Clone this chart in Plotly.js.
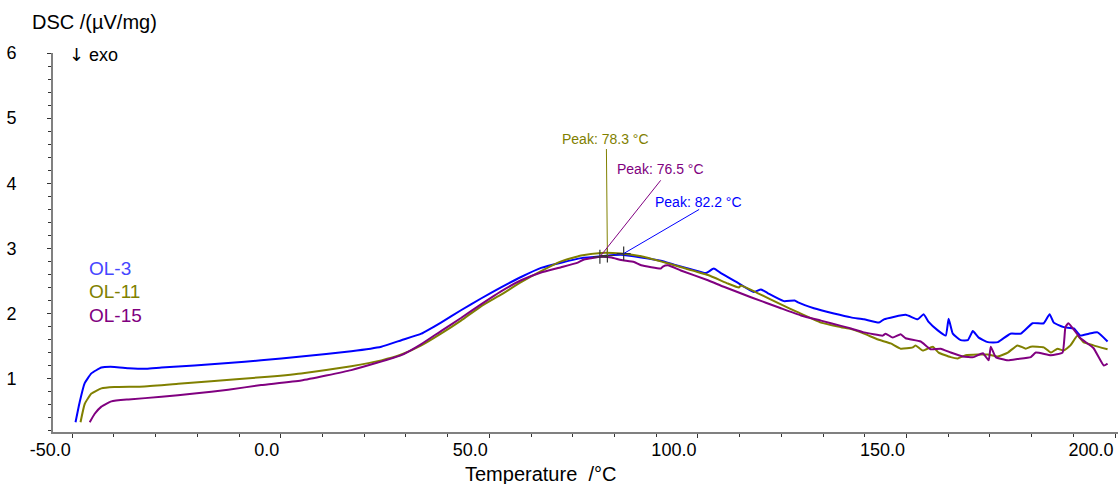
<!DOCTYPE html>
<html><head><meta charset="utf-8">
<script src="https://cdn.plot.ly/plotly-3.0.1.min.js"></script>
<style>html,body{margin:0;padding:0;background:#fff}#chart{width:1118px;height:484px}</style>
</head><body><div id="chart"></div>
<script>
// ---- data (temperature in °C, DSC in µV/mg) ----
const ol3T = [-49.2,-48.2,-47.0,-45.4,-43.0,-39.9,-36.5,-32.2,-28.6,-20.7,-12.6,-4.7,4.9,16.9,24.1,28.9,33.7,38.4,43.2,48.0,52.8,57.6,62.4,67.2,72.0,76.8,81.6,86.4,91.1,94.3,98.3,101.9,103.8,105.5,109.6,113.4,115.1,116.8,120.6,123.2,124.0,127.8,132.6,136.7,139.8,143.4,144.6,149.8,152.7,154.1,155.3,157.5,159.4,160.1,161.1,163.0,164.7,165.9,167.3,169.5,171.9,174.9,177.4,180.2,182.9,184.3,185.3,187.7,190.1,191.7,193.7,195.8,198.2];
const ol3V = [0.33,0.64,0.93,1.08,1.17,1.18,1.16,1.15,1.17,1.20,1.24,1.28,1.34,1.42,1.49,1.59,1.69,1.86,2.05,2.23,2.40,2.56,2.70,2.78,2.85,2.88,2.90,2.86,2.81,2.75,2.68,2.62,2.69,2.62,2.47,2.33,2.37,2.31,2.19,2.20,2.17,2.08,2.00,1.94,1.91,1.86,1.91,1.98,1.91,1.99,1.87,1.74,1.66,1.92,1.69,1.59,1.59,1.73,1.63,1.56,1.56,1.69,1.69,1.85,1.85,1.99,1.86,1.79,1.77,1.66,1.69,1.71,1.57];

const ol11T = [-48.0,-47.0,-45.4,-43.0,-39.9,-32.7,-24.6,-16.7,-4.7,4.9,16.9,24.1,28.9,33.7,38.4,43.2,48.0,52.8,57.6,62.4,67.2,72.0,76.8,81.6,86.4,91.1,96.0,102.4,107.2,109.8,110.3,114.4,119.9,123.9,129.5,134.3,136.7,139.8,143.2,146.2,148.6,151.5,152.2,153.9,156.3,157.7,160.6,162.3,164.2,167.1,169.5,171.9,174.3,176.6,178.6,179.8,182.9,184.6,186.2,187.7,189.3,191.0,192.4,194.8,198.2];
const ol11V = [0.33,0.61,0.77,0.85,0.87,0.88,0.92,0.96,1.02,1.08,1.19,1.28,1.37,1.51,1.69,1.89,2.11,2.29,2.48,2.65,2.80,2.89,2.93,2.92,2.88,2.80,2.71,2.59,2.46,2.40,2.43,2.31,2.14,2.02,1.86,1.79,1.76,1.69,1.60,1.54,1.46,1.48,1.51,1.43,1.49,1.40,1.33,1.31,1.36,1.37,1.37,1.34,1.40,1.51,1.46,1.49,1.48,1.40,1.46,1.43,1.51,1.66,1.56,1.51,1.45];

const ol15T = [-45.8,-44.6,-43.0,-40.6,-36.5,-28.6,-20.7,-12.6,-4.7,4.9,16.9,28.9,33.7,38.4,43.2,48.0,52.8,57.6,62.4,67.2,71.2,72.7,76.8,79.3,81.6,84.7,86.4,91.1,91.6,92.8,95.9,102.4,106.2,112.7,119.9,124.7,129.5,134.3,136.7,139.8,144.3,145.0,146.7,148.6,149.8,153.4,155.8,158.2,160.6,163.5,166.1,168.3,169.7,170.2,171.4,174.3,176.6,179.8,181.0,184.6,187.4,188.1,188.8,191.7,194.8,197.3,198.2];
const ol15V = [0.33,0.46,0.57,0.65,0.68,0.72,0.77,0.83,0.90,0.97,1.13,1.36,1.53,1.73,1.93,2.14,2.34,2.51,2.63,2.71,2.78,2.83,2.87,2.86,2.82,2.79,2.74,2.69,2.72,2.74,2.66,2.51,2.41,2.25,2.08,1.97,1.89,1.81,1.77,1.71,1.66,1.69,1.63,1.68,1.62,1.57,1.45,1.46,1.40,1.34,1.33,1.39,1.28,1.49,1.33,1.28,1.30,1.33,1.40,1.36,1.40,1.79,1.85,1.62,1.47,1.20,1.23];

const seriesNames = ['OL-3', 'OL-11', 'OL-15'];
const peakTemps = [82.2, 78.3, 76.5];
const peakVals = [2.92, 2.89, 2.87];
const xTickVals = [-50, 0, 50, 100, 150, 200];
const yTickVals = [1, 2, 3, 4, 5, 6];

// ---- styles ----
const lineColors = ['#0000ff', '#808000', '#800080'];
const legendColors = ['#4646ff', '#808000', '#800080'];
const FONT = '"Liberation Sans", Arial, Helvetica, sans-serif';
// pixel offsets of peak labels / leader lines (style only)
const labelShift = [[75, 52], [-2, 117], [61, 88]];
const leaderEnd = [[77, -45], [-1, -108], [62, -78]];

const xs = [ol3T, ol11T, ol15T];
const ys = [ol3V, ol11V, ol15V];

const traces = xs.map((x, i) => ({
  type: 'scatter', mode: 'lines', name: seriesNames[i],
  x: x, y: ys[i],
  line: {color: lineColors[i], width: 2, shape: 'spline', smoothing: 0.4},
  hoverinfo: 'skip'
}));
traces.push({
  type: 'scatter', mode: 'markers', x: peakTemps, y: peakVals,
  marker: {symbol: 'cross-thin', size: 10, color: '#333', line: {color: '#333', width: 1.2}},
  hoverinfo: 'skip', showlegend: false
});

const annotations = [];
// peak labels and leader lines
peakTemps.forEach((t, i) => {
  annotations.push({
    x: t, y: peakVals[i], xref: 'x', yref: 'y', text: '',
    showarrow: true, arrowhead: 0, arrowwidth: 1, arrowcolor: lineColors[i],
    ax: leaderEnd[i][0], ay: leaderEnd[i][1], standoff: 0, startstandoff: 0
  });
  annotations.push({
    x: t, y: peakVals[i], xref: 'x', yref: 'y',
    text: 'Peak: ' + t.toFixed(1) + ' °C', showarrow: false,
    xshift: labelShift[i][0], yshift: labelShift[i][1],
    xanchor: 'center', yanchor: 'middle',
    font: {family: FONT, size: 14, color: lineColors[i]}
  });
});
// legend (coloured text)
const legendY = [0.432, 0.371, 0.308];
seriesNames.forEach((n, i) => {
  annotations.push({
    xref: 'paper', yref: 'paper', x: 0.032, y: legendY[i],
    xanchor: 'left', yanchor: 'middle', showarrow: false, text: n,
    font: {family: FONT, size: 19, color: legendColors[i]}
  });
});
// axis titles & exo marker
annotations.push({
  xref: 'paper', yref: 'paper', x: -0.0216, y: 1.081, xanchor: 'left', yanchor: 'middle',
  showarrow: false, text: 'DSC /(µV/mg)', font: {family: FONT, size: 20, color: '#000'}
});
annotations.push({
  xref: 'paper', yref: 'paper', x: 0.0131, y: 0.997, xanchor: 'left', yanchor: 'middle',
  showarrow: false, text: '<span style="font-family:\'DejaVu Sans\'">↓</span> exo',
  font: {family: FONT, size: 18, color: '#000'}
});
annotations.push({
  xref: 'paper', yref: 'paper', x: 0.458, y: -0.112, xanchor: 'center', yanchor: 'middle',
  showarrow: false, text: 'Temperature \u00a0/°C', font: {family: FONT, size: 20, color: '#000'}
});

const layout = {
  width: 1118, height: 484,
  margin: {l: 53, r: 0, t: 53, b: 52},
  paper_bgcolor: '#fff', plot_bgcolor: '#fff',
  showlegend: false,
  font: {family: FONT, size: 18, color: '#000'},
  xaxis: {
    range: [-54.6, 200.7], tickmode: 'array', tickvals: xTickVals,
    ticktext: xTickVals.map(v => v.toFixed(1)),
    ticks: 'outside', ticklen: 4, tickwidth: 1, tickcolor: '#333',
    ticklabelposition: 'outside left',
    showline: true, linecolor: '#808080', linewidth: 2,
    showgrid: false, zeroline: false,
    tickfont: {family: FONT, size: 18, color: '#000'},
    minor: {dtick: 10, tick0: 0, ticks: 'outside', ticklen: 3, tickcolor: '#333', showgrid: false}
  },
  yaxis: {
    range: [0.18, 6], tickmode: 'array', tickvals: yTickVals,
    ticks: 'outside', ticklen: 4, tickwidth: 1, tickcolor: '#333',
    ticklabelstandoff: 27,
    showline: true, linecolor: '#808080', linewidth: 2,
    showgrid: false, zeroline: false,
    tickfont: {family: FONT, size: 18, color: '#000'},
    minor: {dtick: 0.2, tick0: 0, ticks: 'outside', ticklen: 3, tickcolor: '#333', showgrid: false}
  },
  annotations: annotations
};

Plotly.newPlot('chart', traces, layout, {staticPlot: true, displayModeBar: false});
</script>
</body></html>
